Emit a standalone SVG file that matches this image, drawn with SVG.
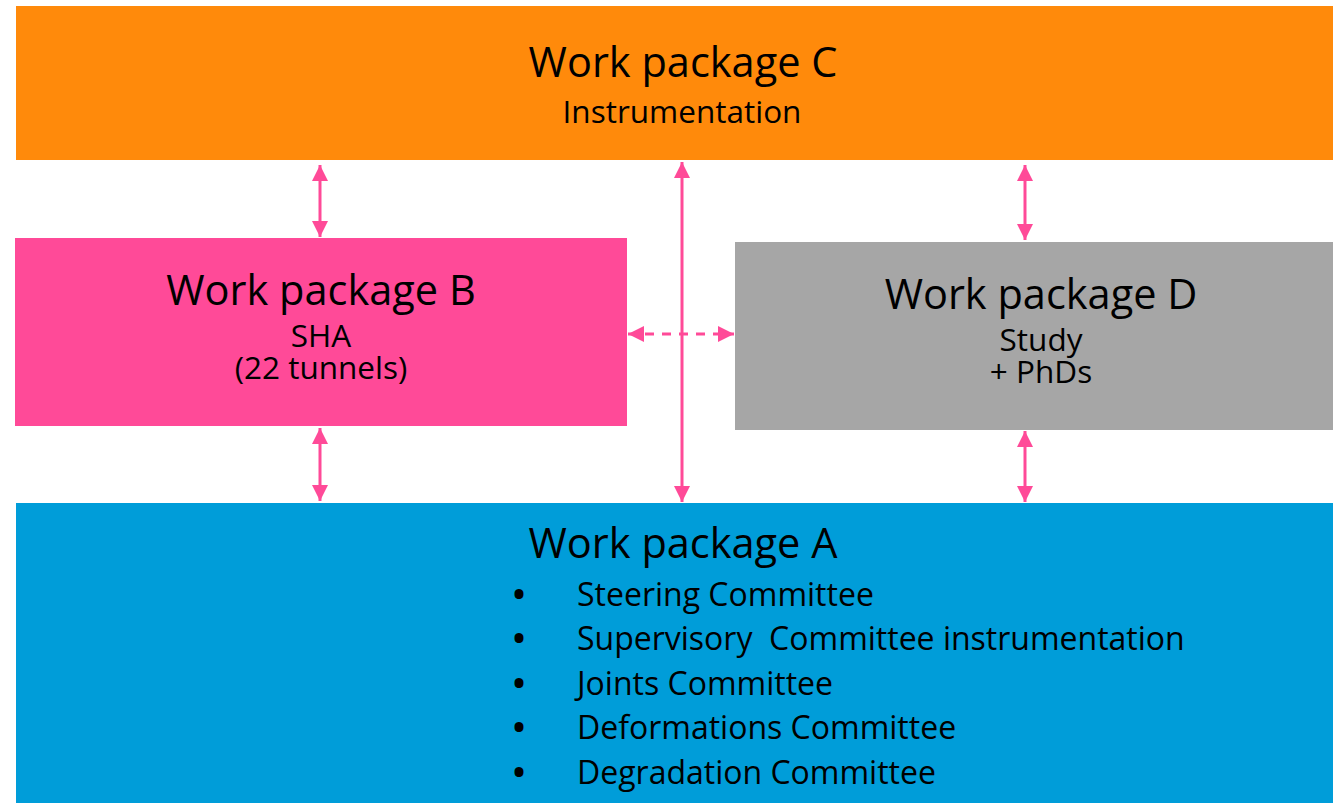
<svg xmlns="http://www.w3.org/2000/svg" width="1333" height="803" viewBox="0 0 1333 803">
<defs>
<style>
text{font-family:"Open Sans","Liberation Sans",sans-serif;fill:#000}
.t{font-size:41.5px;text-anchor:middle}
.s{font-size:31.5px;text-anchor:middle}
.b{font-size:32px;white-space:pre}
.dot{font-weight:bold}
.c{stroke:#FF4A98;stroke-width:3;fill:none}
.d{stroke-dasharray:9 8}
</style>
<marker id="ah" viewBox="0 0 10 10" refX="10" refY="5" markerWidth="16" markerHeight="16" markerUnits="userSpaceOnUse" orient="auto-start-reverse">
<path d="M0,0 L10,5 L0,10 Z" fill="#FF4A98"/>
</marker>
</defs>
<rect width="1333" height="803" fill="#fff"/>
<g id="wpC">
<rect x="16" y="6" width="1317" height="154" fill="#FF8A0B"/>
<text class="t" x="683" y="77">Work package C</text>
<text class="s" x="682" y="123">Instrumentation</text>
</g>
<g id="wpB">
<rect x="15" y="238" width="612" height="188" fill="#FF4A98"/>
<text class="t" x="321" y="305">Work package B</text>
<text class="s"><tspan x="321" y="347">SHA</tspan><tspan x="321" y="379">(22 tunnels)</tspan></text>
</g>
<g id="wpD">
<rect x="735" y="242" width="598" height="188" fill="#A6A6A6"/>
<text class="t" x="1041" y="309">Work package D</text>
<text class="s"><tspan x="1041" y="351">Study</tspan><tspan x="1041" y="383">+ PhDs</tspan></text>
</g>
<g id="wpA">
<rect x="16" y="503" width="1317" height="300" fill="#009DD9"/>
<text class="t" x="683" y="558">Work package A</text>
<g class="b">
<text class="dot" x="513" y="606">•</text><text x="577" y="606">Steering Committee</text>
<text class="dot" x="513" y="650">•</text><text x="577" y="650" xml:space="preserve">Supervisory  Committee instrumentation</text>
<text class="dot" x="513" y="695">•</text><text x="577" y="695">Joints Committee</text>
<text class="dot" x="513" y="739">•</text><text x="577" y="739">Deformations Committee</text>
<text class="dot" x="513" y="784">•</text><text x="577" y="784">Degradation Committee</text>
</g>
</g>
<g id="connectors">
<line class="c" x1="320" y1="165" x2="320" y2="237" marker-start="url(#ah)" marker-end="url(#ah)"/>
<line class="c" x1="320" y1="428" x2="320" y2="501" marker-start="url(#ah)" marker-end="url(#ah)"/>
<line class="c" x1="682" y1="162" x2="682" y2="502" marker-start="url(#ah)" marker-end="url(#ah)"/>
<line class="c" x1="1025" y1="165" x2="1025" y2="240" marker-start="url(#ah)" marker-end="url(#ah)"/>
<line class="c" x1="1025" y1="431" x2="1025" y2="502" marker-start="url(#ah)" marker-end="url(#ah)"/>
<line class="c d" x1="628" y1="334" x2="734" y2="334" marker-start="url(#ah)" marker-end="url(#ah)"/>
</g>
</svg>
